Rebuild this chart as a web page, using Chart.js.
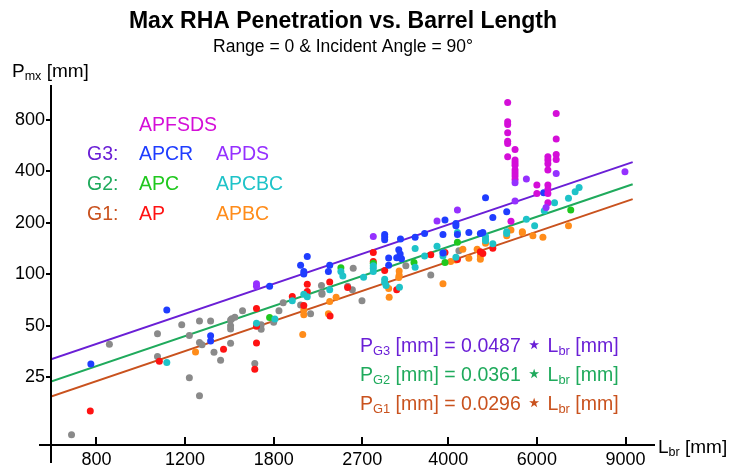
<!DOCTYPE html>
<html>
<head>
<meta charset="utf-8">
<script src="https://cdn.jsdelivr.net/npm/chart.js@4.4.1/dist/chart.umd.min.js"></script>
<style>
  html, body { margin: 0; padding: 0; background: #fff; }
  #wrap { width: 730px; height: 470px; }
</style>
</head>
<body>
<div id="wrap"><canvas id="penChart" width="730" height="470"></canvas></div>
<script>
// tick values of both log axes
const xTicks = [800, 1200, 1800, 2700, 4000, 6000, 9000];
const yTicks = [25, 50, 100, 200, 400, 800];

// barrel length (mm) / max penetration (mm) per ammo type
const apfsdsL = [5250, 5250, 5250, 5250, 5250, 5250, 5250, 5430, 5430, 5430, 5430, 5430, 5430, 5430, 5430, 5330, 6000, 6000, 6310, 6310, 6310, 6310, 6310, 6310, 6310, 6310, 6555, 6555, 6555, 6555];
const apfsdsP = [1012, 780, 753, 673, 601, 583, 487, 538, 466, 449, 434, 407, 392, 376, 359, 204, 333, 297, 487, 466, 444, 407, 333, 314, 297, 262, 873, 618, 503, 470];

const apdsL = [1664, 1664, 2839, 3800, 4172, 5430, 5430, 5719, 6258, 6555, 8977];
const apdsP = [88, 85, 166, 205, 238, 343, 268, 361, 246, 389, 398];

const apcrL = [780, 1104, 1349, 1349, 1767, 2036, 2099, 2066, 2066, 2326, 2312, 2991, 2991, 2991, 3215, 3438, 3590, 3905, 4172, 4396, 4633, 4686, 3941, 4143, 4143, 4744, 4905, 5227, 6190, 3046, 3046, 3190, 3210, 3160, 3230, 3905];
const apcrP = [29.8, 61.8, 43.6, 40.7, 85, 113, 127, 103.6, 100.4, 113, 103.6, 171, 165, 159, 160.5, 164.5, 173, 171, 171, 175.5, 173, 175.5, 208, 198, 192, 280, 215, 232, 300, 124.5, 113, 139, 131.4, 125, 123, 133];

const apcbcL = [1104, 1664, 1810, 1960, 2066, 2099, 2326, 2448, 2470, 2716, 2839, 2839, 2839, 2991, 2991, 3010, 3200, 3438, 3438, 3590, 3800, 3905, 3905, 4143, 4172, 4744, 4744, 4744, 4905, 5227, 5227, 5719, 5939, 6207, 6505, 6934, 7148, 7279];
const apcbcP = [30.4, 51.7, 54.6, 69.8, 76.2, 73.7, 81, 103.6, 97.7, 96, 112, 108.4, 103.6, 93.5, 89.8, 85.8, 84, 110, 141.5, 128, 146, 134, 128, 125.5, 175.5, 166, 160, 157, 151, 177, 173, 210, 192, 235, 262, 278, 304, 322];

const apcL = [1767, 2448, 2839, 3420, 3941, 4172, 7006];
const apcP = [55.7, 109, 116, 117, 117, 154, 238];

const apL = [778, 1067, 1431, 1651, 1664, 1664, 1664, 1960, 2099, 2099, 2066, 2326, 2330, 2525, 2839, 2839, 2991, 3160, 3693, 3941, 4172, 4633, 4686, 4905];
const apP = [15.8, 30.9, 36.4, 27.8, 39.5, 49.5, 63, 74, 87.4, 79.3, 65.5, 90, 57, 83.7, 134, 118.5, 105, 81, 130, 134, 122, 135.5, 132, 142];

const apbcL = [1259, 2056, 2066, 2066, 2312, 2326, 2395, 3046, 3053, 3196, 3196, 3190, 3905, 4045, 4143, 4277, 4396, 4566, 4633, 4633, 4744, 5227, 5330, 5614, 5614, 5892, 6168, 6934];
const apbcP = [35, 44.3, 61.8, 57.8, 58.6, 69.2, 73.4, 82.4, 73.4, 104.5, 98.7, 95.5, 87.8, 118.5, 121, 140, 124, 140, 128, 122.5, 152, 168, 181.5, 175, 177, 168, 164.5, 192];

const otherL = [714, 849, 1058, 1058, 1182, 1224, 1224, 1282, 1282, 1297, 1282, 1349, 1370, 1412, 1478, 1486, 1507, 1478, 1478, 1478, 1561, 1651, 1700, 1700, 1800, 1844, 1880, 2036, 2131, 2240, 2245, 2245, 2525, 2580, 2590, 2696, 3295, 3693, 4200];
const otherP = [11.5, 38.9, 44.8, 33, 50.6, 43.7, 24.8, 53.3, 39.8, 38.6, 19.4, 53.3, 34.9, 31.3, 54, 54.8, 56, 49.9, 47.7, 39.4, 61, 30, 50.6, 47.6, 52.4, 61, 68, 66, 58.6, 86, 77.7, 76.2, 85, 81, 108.5, 69.8, 112, 99, 137];

// fitted group lines, end points
const fitL = [650, 9300];
const fitG3 = [31.7, 453];
const fitG2 = [23.5, 336];
const fitG1 = [19.2, 275];

const FONT = "'Liberation Sans', Arial, sans-serif";
Chart.defaults.font.family = FONT;
Chart.defaults.color = '#000';

const colors = {
    apfsds: '#d40ed8', apds: '#9530ff', apcr: '#1f3dff', apcbc: '#1ec3c8',
    apc: '#20c81e', ap: '#ff1212', apbc: '#ff8c1a', other: '#8a8a8a',
    g3: '#6a1fd6', g2: '#1faa5c', g1: '#c9521e'
};

function pts(xs, ys) {
    return xs.map((x, i) => ({ x: x, y: ys[i] }));
}

function dots(label, xs, ys, color) {
    return {
        label: label, data: pts(xs, ys),
        backgroundColor: color, borderColor: color,
        pointRadius: 3.5, pointBorderWidth: 0, pointHoverRadius: 3.5
    };
}

function fit(label, ys, color) {
    return {
        label: label, data: pts(fitL, ys), showLine: true,
        borderColor: color, borderWidth: 2, pointRadius: 0, pointHoverRadius: 0
    };
}

// text runs: [text, kind] where kind is 'sub', 'big' or nothing
function textRun(ctx, x, y, size, parts, color) {
    ctx.fillStyle = color;
    parts.forEach(([t, kind]) => {
        let s = size, dy = 0;
        if (kind === 'sub') { s = size * 0.66; dy = 3; }
        if (kind === 'big') { s = size * 1.35; dy = 1; }
        ctx.font = s + 'px ' + FONT;
        ctx.fillText(t, x, y + dy);
        x += ctx.measureText(t).width;
    });
}

const annotate = {
    id: 'annotate',
    afterDraw(chart) {
        const ctx = chart.ctx;
        const a = chart.chartArea;
        ctx.save();
        // crossed axis lines
        ctx.strokeStyle = '#000';
        ctx.lineWidth = 2;
        ctx.beginPath();
        ctx.moveTo(a.left, a.top);
        ctx.lineTo(a.left, a.bottom + 18);
        ctx.moveTo(a.left - 12, a.bottom);
        ctx.lineTo(a.right, a.bottom);
        ctx.stroke();

        ctx.textAlign = 'left';
        ctx.textBaseline = 'alphabetic';
        textRun(ctx, 12, 77, 19, [['P'], ['mx', 'sub'], [' [mm]']], '#000');
        textRun(ctx, 658, 453, 19, [['L'], ['br', 'sub'], [' [mm]']], '#000');

        // legend block
        const ls = 19.5;
        textRun(ctx, 139, 131, ls, [['APFSDS']], colors.apfsds);
        textRun(ctx, 87, 160, ls, [['G3:']], colors.g3);
        textRun(ctx, 139, 160, ls, [['APCR']], colors.apcr);
        textRun(ctx, 216, 160, ls, [['APDS']], colors.apds);
        textRun(ctx, 87, 190, ls, [['G2:']], colors.g2);
        textRun(ctx, 139, 190, ls, [['APC']], colors.apc);
        textRun(ctx, 216, 190, ls, [['APCBC']], colors.apcbc);
        textRun(ctx, 87, 220, ls, [['G1:']], colors.g1);
        textRun(ctx, 139, 220, ls, [['AP']], colors.ap);
        textRun(ctx, 216, 220, ls, [['APBC']], colors.apbc);

        // fit equations
        const eq = (g, k, y, c) => textRun(ctx, 360, y, ls,
            [['P'], [g, 'sub'], [' [mm] = ' + k + ' '], ['\u22C6', 'big'], [' L'], ['br', 'sub'], [' [mm]']], c);
        eq('G3', '0.0487', 352, colors.g3);
        eq('G2', '0.0361', 381, colors.g2);
        eq('G1', '0.0296', 410, colors.g1);
        ctx.restore();
    }
};

new Chart(document.getElementById('penChart'), {
    type: 'scatter',
    data: {
        datasets: [
            dots('APDS', apdsL, apdsP, colors.apds),
            dots('APFSDS', apfsdsL, apfsdsP, colors.apfsds),
            dots('APCR', apcrL, apcrP, colors.apcr),
            dots('APCBC', apcbcL, apcbcP, colors.apcbc),
            dots('APC', apcL, apcP, colors.apc),
            dots('AP', apL, apP, colors.ap),
            dots('APBC', apbcL, apbcP, colors.apbc),
            dots('Other', otherL, otherP, colors.other),
            fit('G3', fitG3, colors.g3),
            fit('G2', fitG2, colors.g2),
            fit('G1', fitG1, colors.g1)
        ]
    },
    options: {
        responsive: false,
        animation: false,
        layout: { padding: { left: 0, right: 44, top: 0, bottom: 0 } },
        plugins: {
            legend: { display: false },
            tooltip: { enabled: false },
            title: {
                display: true,
                text: 'Max RHA Penetration vs. Barrel Length',
                font: { size: 23, weight: 'bold', lineHeight: 1.2 },
                color: '#000',
                padding: { top: 8, bottom: 0 }
            },
            subtitle: {
                display: true,
                text: 'Range = 0 & Incident Angle = 90\u00B0',
                font: { size: 17.5, weight: 'normal', lineHeight: 1.2 },
                color: '#000',
                padding: { top: 1, bottom: 27.5 }
            }
        },
        scales: {
            x: {
                type: 'logarithmic',
                min: 650,
                max: 10300,
                border: { display: false },
                grid: { drawOnChartArea: false, drawTicks: true, tickLength: -8, color: '#000', lineWidth: 2 },
                ticks: {
                    autoSkip: false, maxRotation: 0, padding: 12,
                    font: { size: 18 }, color: '#000',
                    callback: v => String(v)
                },
                afterBuildTicks: s => { s.ticks = xTicks.map(v => ({ value: v })); },
                afterFit: s => { s.height = 25; }
            },
            y: {
                type: 'logarithmic',
                min: 10,
                max: 1280,
                border: { display: false },
                grid: { drawOnChartArea: false, drawTicks: true, tickLength: 5, color: '#000', lineWidth: 2 },
                ticks: {
                    autoSkip: false, padding: 1,
                    font: { size: 18 }, color: '#000',
                    callback: v => String(v)
                },
                afterBuildTicks: s => { s.ticks = yTicks.map(v => ({ value: v })); },
                afterFit: s => { s.width = 51; }
            },
            // empty right-hand box that keeps the titles centred as in the original
            spacer: {
                type: 'linear',
                position: 'right',
                display: true,
                border: { display: false },
                grid: { display: false },
                ticks: { display: false },
                afterFit: s => { s.width = 31; }
            }
        }
    },
    plugins: [annotate]
});
</script>
</body>
</html>
